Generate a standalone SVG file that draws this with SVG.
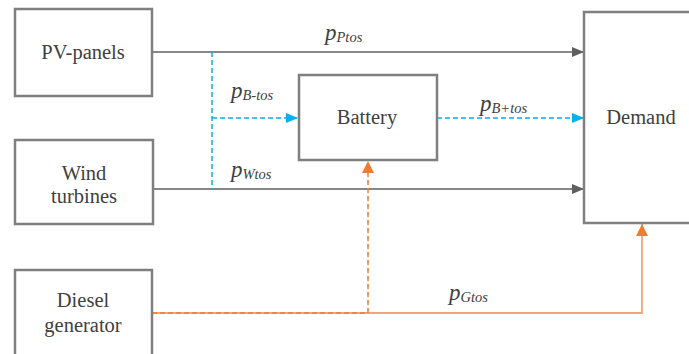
<svg xmlns="http://www.w3.org/2000/svg" width="689" height="354" viewBox="0 0 689 354">
<style>
.box{fill:#fff;stroke:#7f7f7f;stroke-width:2.5}
.lbl{font-size:20.5px;fill:#404040;text-anchor:middle}
.var{font-style:italic;fill:#404040}
.p{font-size:23px}
.sub{font-size:14.5px}
.gl{stroke:#5f5f5f;stroke-width:1.5;fill:none}
.bl{stroke:#00b0f0;stroke-width:1.5;stroke-dasharray:5,3;fill:none}
.od{stroke:#ed7d31;stroke-width:1.5;stroke-dasharray:5,3;fill:none}
.os{stroke:#f4a672;stroke-width:1.8;fill:none}
text{font-family:"Liberation Serif","Times New Roman",serif}
</style>
<defs>
<marker id="ag" markerWidth="12" markerHeight="10" refX="12" refY="5" orient="auto" markerUnits="userSpaceOnUse"><path d="M0,0L12,5L0,10z" fill="#5f5f5f"/></marker>
<marker id="ab" markerWidth="12" markerHeight="10" refX="12" refY="5" orient="auto" markerUnits="userSpaceOnUse"><path d="M0,0L12,5L0,10z" fill="#00b0f0"/></marker>
<marker id="ao" markerWidth="12" markerHeight="12" refX="12" refY="6" orient="auto" markerUnits="userSpaceOnUse"><path d="M0,0L12,6L0,12z" fill="#ed7d31"/></marker>
</defs>
<g id="connectors">
<line class="gl" x1="152" y1="52" x2="584" y2="52" marker-end="url(#ag)"/>
<line class="gl" x1="153" y1="189" x2="584" y2="189" marker-end="url(#ag)"/>
<line class="bl" x1="212" y1="52" x2="212" y2="189"/>
<line class="bl" x1="212" y1="118" x2="298" y2="118" marker-end="url(#ab)"/>
<line class="bl" x1="437" y1="118" x2="584" y2="118" marker-end="url(#ab)"/>
<polyline class="os" points="152,313 642,313 642,224" marker-end="url(#ao)"/>
<line class="od" x1="152" y1="313" x2="368" y2="313"/>
<line class="od" x1="368" y1="313" x2="368" y2="161" marker-end="url(#ao)"/>
</g>
<g id="labels">
<text class="var" x="325" y="40"><tspan class="p">p</tspan><tspan class="sub" dy="2">Ptos</tspan></text>
<text class="var" x="231" y="98"><tspan class="p">p</tspan><tspan class="sub" dy="2">B-tos</tspan></text>
<text class="var" x="231" y="177"><tspan class="p">p</tspan><tspan class="sub" dy="2">Wtos</tspan></text>
<text class="var" x="480" y="111"><tspan class="p">p</tspan><tspan class="sub" dy="2">B+tos</tspan></text>
<text class="var" x="449" y="300"><tspan class="p">p</tspan><tspan class="sub" dy="2">Gtos</tspan></text>
</g>
<g id="pv"><rect class="box" x="15" y="9" width="137" height="87"/><text class="lbl" x="83" y="59">PV-panels</text></g>
<g id="wind"><rect class="box" x="15" y="140" width="138" height="84"/><text class="lbl" x="84" y="180">Wind</text><text class="lbl" x="84" y="203">turbines</text></g>
<g id="diesel"><rect class="box" x="15" y="270" width="137" height="90"/><text class="lbl" x="83" y="307">Diesel</text><text class="lbl" x="83" y="332">generator</text></g>
<g id="battery"><rect class="box" x="299" y="75" width="138" height="85"/><text class="lbl" x="367" y="124">Battery</text></g>
<g id="demand"><rect class="box" x="584" y="12" width="120" height="211"/><text class="lbl" x="641" y="124">Demand</text></g>
</svg>
